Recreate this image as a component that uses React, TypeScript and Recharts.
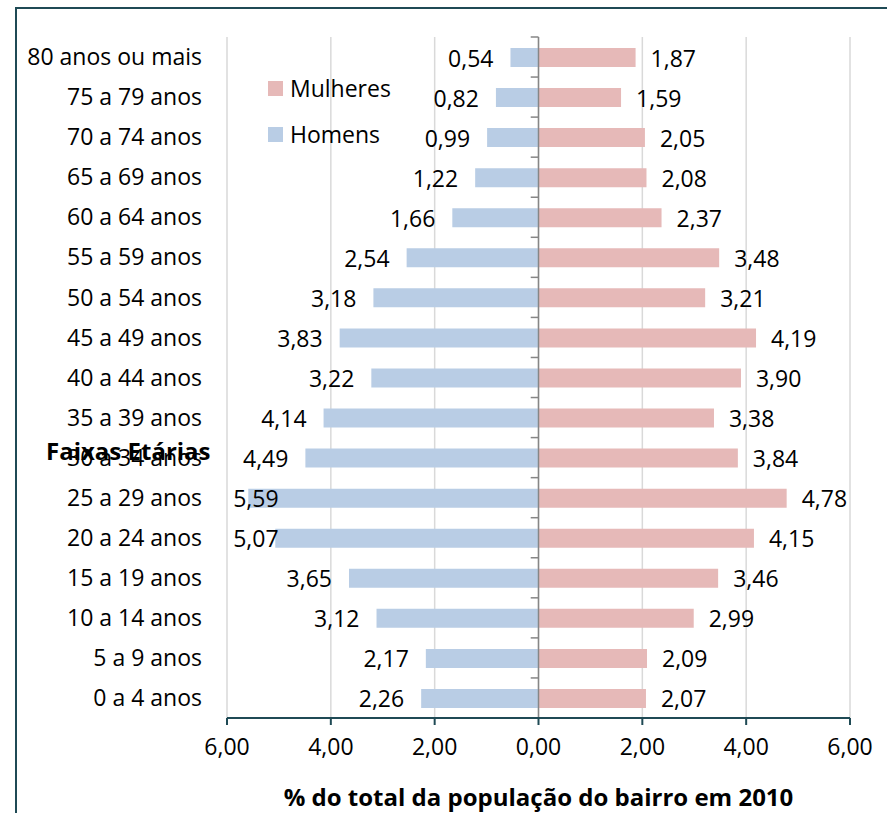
import React from "react";
import {
  BarChart, Bar, XAxis, YAxis, CartesianGrid, ReferenceLine, Legend, LabelList,
} from "recharts";

const faixas = [
  "80 anos ou mais", "75 a 79 anos", "70 a 74 anos", "65 a 69 anos", "60 a 64 anos",
  "55 a 59 anos", "50 a 54 anos", "45 a 49 anos", "40 a 44 anos", "35 a 39 anos",
  "30 a 34 anos", "25 a 29 anos", "20 a 24 anos", "15 a 19 anos", "10 a 14 anos",
  "5 a 9 anos", "0 a 4 anos",
];
const homens = [0.54, 0.82, 0.99, 1.22, 1.66, 2.54, 3.18, 3.83, 3.22, 4.14, 4.49, 5.59, 5.07, 3.65, 3.12, 2.17, 2.26];
const mulheres = [1.87, 1.59, 2.05, 2.08, 2.37, 3.48, 3.21, 4.19, 3.9, 3.38, 3.84, 4.78, 4.15, 3.46, 2.99, 2.09, 2.07];
const xTicks = [-6, -4, -2, 0, 2, 4, 6];

const data = faixas.map((f, i) => ({ faixa: f, homens: -homens[i], mulheres: mulheres[i] }));

const FONT = "'Open Sans', sans-serif";
const FS = 23;
const PINK = "#E6B9B8";
const BLUE = "#B9CDE5";
const DARK = "#1F4A55";
const PLOT_LEFT = 227;

const fmt = (v: number) => Math.abs(v).toFixed(2).replace(".", ",");

// rótulos dos homens: à esquerda da barra, sem sair da área do gráfico
const MenLabel = (p: any) => {
  const end = Math.min(p.x, p.x + p.width);
  const tx = Math.max(end - 17, PLOT_LEFT + 6 + FS * 1.98);
  return (
    <text x={tx} y={p.y + p.height / 2} textAnchor="end" dominantBaseline="central" fontSize={FS} fill="#000">
      {fmt(p.value)}
    </text>
  );
};

const WomenLabel = (p: any) => {
  const end = Math.max(p.x, p.x + p.width);
  return (
    <text x={end + 15} y={p.y + p.height / 2} textAnchor="start" dominantBaseline="central" fontSize={FS} fill="#000">
      {fmt(p.value)}
    </text>
  );
};

const LegendBox = () => (
  <div style={{ fontFamily: FONT, fontSize: FS, color: "#000" }}>
    {[
      { name: "Mulheres", color: PINK },
      { name: "Homens", color: BLUE },
    ].map((it) => (
      <div key={it.name} style={{ display: "flex", alignItems: "center", height: 46 }}>
        <span style={{ width: 15, height: 15, background: it.color, marginRight: 7 }} />
        <span>{it.name}</span>
      </div>
    ))}
  </div>
);

export default function App() {
  return (
    <div style={{ position: "absolute", left: 0, top: 0, width: 887, height: 813, overflow: "hidden", background: "#fff", fontFamily: FONT }}>
      <div style={{ position: "absolute", left: 15, top: 7, width: 900, height: 900, borderLeft: `2px solid ${DARK}`, borderTop: `2px solid ${DARK}` }} />
      <div style={{ position: "absolute", left: 0, top: 0 }}>
        <BarChart
          width={887}
          height={813}
          data={data}
          layout="vertical"
          stackOffset="sign"
          barSize={19}
          margin={{ top: 37, right: 37, left: 0, bottom: 0 }}
        >
          <CartesianGrid horizontal={false} vertical stroke="#D9D9D9" strokeWidth={1.5} />
          <XAxis
            type="number"
            domain={[-6, 6]}
            ticks={xTicks}
            tickFormatter={(v: number) => fmt(v)}
            height={95}
            axisLine={{ stroke: DARK, strokeWidth: 2 }}
            tickLine={{ stroke: DARK, strokeWidth: 2 }}
            tickSize={7}
            tickMargin={14}
            tick={{ fontSize: FS, fill: "#000" }}
            label={{
              value: "% do total da população do bairro em 2010",
              position: "insideBottom",
              offset: 7,
              style: { fontSize: 24, fontWeight: 700, fill: "#000" },
            }}
          />
          <YAxis
            type="category"
            dataKey="faixa"
            width={227}
            axisLine={false}
            tickLine={false}
            tickSize={0}
            tickMargin={25}
            interval={0}
            tick={{ fontSize: FS, fill: "#000" }}
            label={{
              value: "Faixas Etárias",
              position: "insideLeft",
              offset: 46,
              dy: 74,
              style: { fontSize: 24, fontWeight: 700, fill: "#000", textAnchor: "start" },
            }}
          />
          <Legend
            layout="vertical"
            align="center"
            verticalAlign="middle"
            content={<LegendBox />}
            wrapperStyle={{ left: 268, top: 65, width: 160, height: 92 }}
          />
          <Bar dataKey="mulheres" name="Mulheres" stackId="a" fill={PINK} isAnimationActive={false}>
            <LabelList dataKey="mulheres" content={WomenLabel} />
          </Bar>
          <Bar dataKey="homens" name="Homens" stackId="a" fill={BLUE} isAnimationActive={false}>
            <LabelList dataKey="homens" content={MenLabel} />
          </Bar>
          <ReferenceLine x={0} stroke="#868686" strokeWidth={1.5} />
          {faixas.map((f) => (
            <ReferenceLine
              key={f}
              position="start"
              segment={[{ x: -0.15, y: f }, { x: 0, y: f }]}
              stroke="#868686"
              strokeWidth={1.5}
            />
          ))}
        </BarChart>
      </div>
    </div>
  );
}
